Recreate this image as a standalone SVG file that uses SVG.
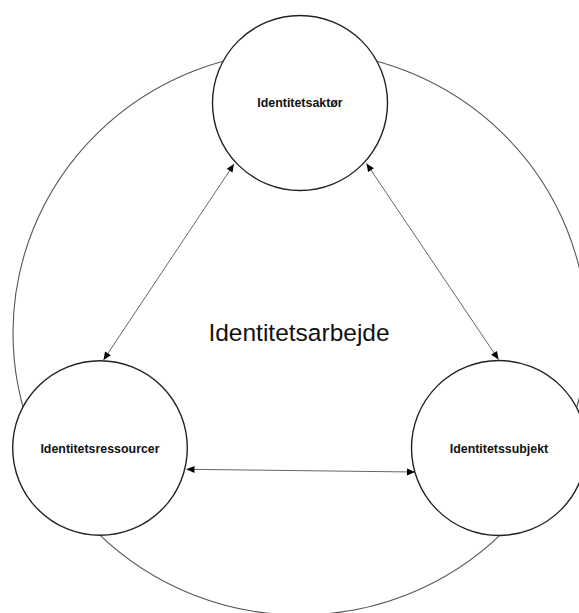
<svg xmlns="http://www.w3.org/2000/svg" width="579" height="613" viewBox="0 0 579 613">
<style>
.bg{fill:none;stroke:#555;stroke-width:1.1}
.node{fill:#fff;stroke:#222;stroke-width:1.4}
.lbl{font-family:"Liberation Sans",Arial,sans-serif;font-weight:bold;font-size:12.4px;fill:#111;text-anchor:middle}
.title{font-family:"Liberation Sans",Arial,sans-serif;font-size:24.5px;fill:#111;text-anchor:middle}
.conn line{stroke:#666;stroke-width:1;marker-start:url(#ah);marker-end:url(#ah)}
</style>
<defs>
<marker id="ah" markerUnits="userSpaceOnUse" markerWidth="10" markerHeight="10" viewBox="0 0 10 10" refX="9" refY="5" orient="auto-start-reverse">
<path d="M1,1.5 L9,5 L1,8.5 Z" fill="#000"/>
</marker>
</defs>
<rect width="579" height="613" fill="#fff"/>
<g id="boundary"><ellipse class="bg" cx="300" cy="333" rx="287" ry="282"/></g>
<text class="title" x="299" y="341">Identitetsarbejde</text>
<g id="connectors" class="conn">
<line x1="103.5" y1="360" x2="234" y2="164"/>
<line x1="366.5" y1="163.5" x2="498.5" y2="359.5"/>
<line x1="186.5" y1="469.3" x2="415" y2="472"/>
</g>
<g id="node-aktor"><circle class="node" cx="300" cy="103" r="87.5"/><text class="lbl" x="300" y="106.7">Identitetsaktør</text></g>
<g id="node-ressourcer"><circle class="node" cx="100" cy="448" r="87.3"/><text class="lbl" x="100" y="453">Identitetsressourcer</text></g>
<g id="node-subjekt"><circle class="node" cx="499" cy="448" r="87.5"/><text class="lbl" x="499" y="453">Identitetssubjekt</text></g>
</svg>
